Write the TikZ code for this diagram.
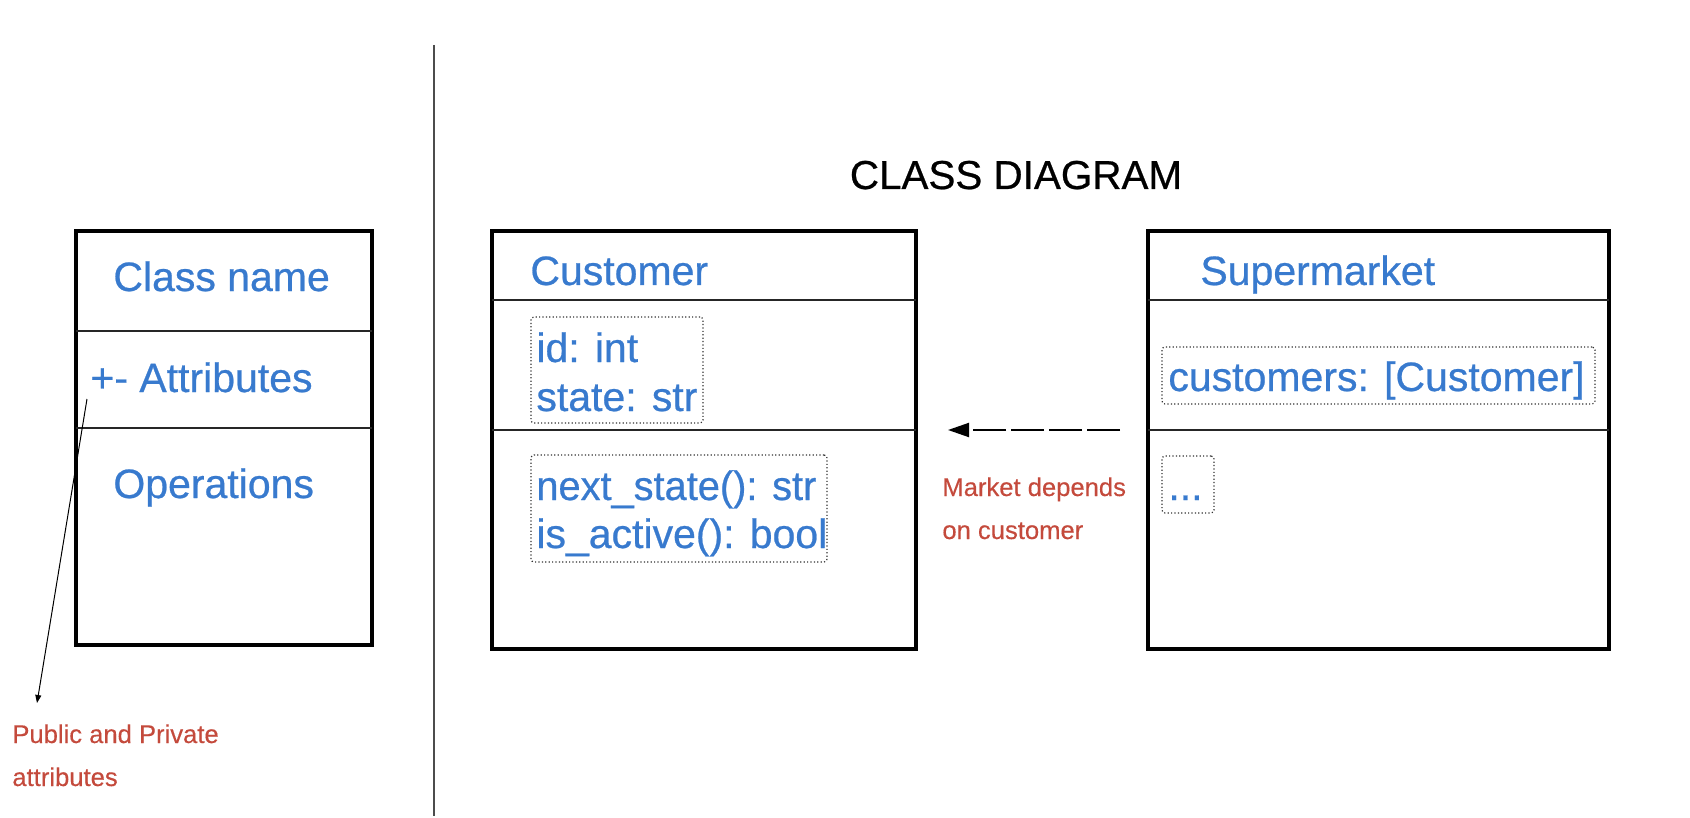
\documentclass[tikz,border=0pt]{standalone}
\usepackage{fontspec}
\setmainfont{Liberation Sans}
\newfontfamily\umlfont{Liberation Sans}[FakeBold=0.6]
\newfontfamily\notefont{Liberation Sans}[FakeBold=0.3]
\usetikzlibrary{arrows.meta}
\definecolor{umlblue}{RGB}{56,122,206}
\definecolor{notered}{RGB}{196,74,60}
\begin{document}
\begin{tikzpicture}[x=0.5pt,y=-0.5pt,
  classbox/.style={draw=black, line width=2pt, inner sep=0pt, outer sep=0pt, anchor=north west},
  divider/.style={draw=black!85, line width=0.75pt},
  dotbox/.style={draw=black!80, line width=0.6pt, dash pattern=on 0.6pt off 1.1pt, rounded corners=1.5pt, inner sep=0pt, outer sep=0pt, anchor=north west},
  umltext/.style={text=umlblue, font=\umlfont\fontsize{20.5}{24.5}\selectfont, inner sep=0pt, anchor=base west},
  notetext/.style={text=notered, font=\notefont\fontsize{12.8}{15}\selectfont, inner sep=0pt, anchor=base west},
  titletext/.style={text=black, font=\umlfont\fontsize{20.2}{24}\selectfont, inner sep=0pt, anchor=base},
  separator/.style={draw=black!70, line width=1pt},
  notearrow/.style={draw=black, line width=0.5pt, -{Triangle[length=4pt,width=3pt]}},
  deparrow/.style={draw=black, line width=1pt, dash pattern=on 16.5pt off 2.5pt, -{Triangle[length=10.5pt,width=7pt]}}
]
\useasboundingbox (0,0) rectangle (1690,818);

% separator
\coordinate (septop) at (434,45);
\coordinate (sepbot) at (434,816);
\draw[separator] (septop) -- (sepbot);

% title
\node[titletext] (title) at (1016,189) {CLASS DIAGRAM};

% legend class box
\node[classbox, minimum width=148pt, minimum height=207pt] (legend) at (76,231) {};
\coordinate (ly1) at (0,331);
\coordinate (ly2) at (0,428);
\draw[divider] (legend.west |- ly1) -- (legend.east |- ly1);
\draw[divider] (legend.west |- ly2) -- (legend.east |- ly2);
\node[umltext] (lname) at (113,291) {Class name};
\node[umltext] (lattr) at (90,392) {+- Attributes};
\node[umltext] (lops) at (113,498) {Operations};

% note on attributes
\coordinate (attrnote) at (87,399);
\coordinate (pubnote) at (37,703);
\draw[notearrow] (attrnote) -- (pubnote);
\node[notetext] (pub1) at (12,743) {Public and Private};
\node[notetext] (pub2) at (12,786) {attributes};

% Customer class
\node[classbox, minimum width=212pt, minimum height=209pt] (customer) at (492,231) {};
\coordinate (cy1) at (0,300);
\coordinate (cy2) at (0,430);
\draw[divider] (customer.west |- cy1) -- (customer.east |- cy1);
\draw[divider] (customer.west |- cy2) -- (customer.east |- cy2);
\node[umltext] (cname) at (530,285) {Customer};
\node[dotbox, minimum width=86pt, minimum height=53pt] (custattr) at (531,317) {};
\node[umltext] (cattr1) at (536,362) {id: int};
\node[umltext] (cattr2) at (536,411) {state: str};
\node[dotbox, minimum width=148pt, minimum height=53.5pt] (custops) at (531,455) {};
\node[umltext] (cops1) at (536,500) {\scalebox{0.97}[1]{next\_state(): str}};
\node[umltext] (cops2) at (536,548) {is\_active(): bool};

% Supermarket class
\node[classbox, minimum width=230.5pt, minimum height=209pt] (super) at (1148,231) {};
\draw[divider] (super.west |- cy1) -- (super.east |- cy1);
\draw[divider] (super.west |- cy2) -- (super.east |- cy2);
\node[umltext] (sname) at (1200,285) {Supermarket};
\node[dotbox, minimum width=216.5pt, minimum height=28.5pt] (superattr) at (1162,347) {};
\node[umltext] (sattr) at (1168,391) {customers: [Customer]};
\node[dotbox, minimum width=26pt, minimum height=28.5pt] (superops) at (1162,456) {};
\node[umltext] (sops) at (1168,500) {...};

% dependency
\coordinate (deptail) at (1120,430);
\coordinate (deptip) at (948,430);
\draw[deparrow] (deptail) -- (deptip);
\node[notetext] (dep1) at (942,496) {Market depends};
\node[notetext] (dep2) at (942,539) {on customer};
\end{tikzpicture}
\end{document}
